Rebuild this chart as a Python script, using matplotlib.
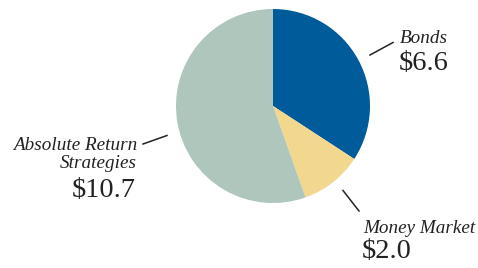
import matplotlib.pyplot as plt

labels = ["Bonds", "Money Market", "Absolute Return\nStrategies"]
values = [6.6, 2.0, 10.7]
colors = ["#005b9b", "#f2d78f", "#aec6bc"]

W, H = 478, 268

fig = plt.figure(figsize=(W / 100, H / 100), dpi=100)
ax = fig.add_axes([0, 0, 1, 1])
ax.set_xlim(0, W)
ax.set_ylim(0, H)
ax.set_aspect("equal")
ax.axis("off")

# pie in pixel coords (y up)
ax.pie(values, colors=colors, startangle=90, counterclock=False,
       center=(273, H - 106), radius=97, wedgeprops=dict(linewidth=0))
ax.set_xlim(0, W)
ax.set_ylim(0, H)

serif = ["Liberation Serif", "DejaVu Serif"]
lab_kw = dict(family=serif, style="italic", fontsize=13.8, color="#222222", va="baseline")
val_kw = dict(family=serif, fontsize=20.5, color="#222222", va="baseline")

def line(x0, y0, x1, y1):
    ax.plot([x0, x1], [H - y0, H - y1], color="#222222", lw=1.1)

# Bonds
line(370, 55, 393, 42.5)
ax.text(400, H - 43, labels[0], ha="left", **lab_kw)
ax.text(399, H - 70, f"${values[0]:.1f}", ha="left", **val_kw)

# Money Market
line(343, 190.5, 359, 211)
ax.text(363, H - 233, labels[1], ha="left", **lab_kw)
ax.text(362, H - 258, f"${values[1]:.1f}", ha="left", **val_kw)

# Absolute Return Strategies
line(143, 144, 167, 135.5)
ax.text(137, H - 150, "Absolute Return", ha="right", **lab_kw)
ax.text(137, H - 168, "Strategies", ha="right", **lab_kw)
ax.text(136, H - 197, f"${values[2]:.1f}", ha="right", **val_kw)

fig.savefig("out.png", dpi=100)
